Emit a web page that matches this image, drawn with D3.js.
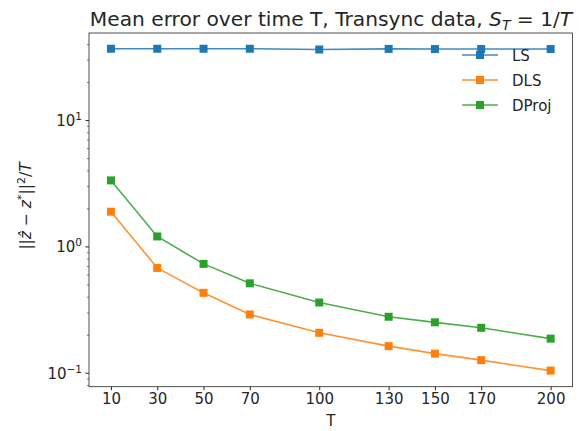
<!DOCTYPE html>
<html><head><meta charset="utf-8">
<script src="https://cdn.jsdelivr.net/npm/d3@7"></script>
<style>body{margin:0;background:#fff}svg{display:block}text{font-family:"DejaVu Sans",sans-serif}</style>
</head><body><svg id="c" width="581" height="431"></svg>
<script>
const Tvals = [10, 30, 50, 70, 100, 130, 150, 170, 200];
const xTicks = [10, 30, 50, 70, 100, 130, 150, 170, 200];
const LS = [37.0, 37.0, 37.0, 37.0, 36.5, 36.9, 36.8, 36.8, 36.8];
const DLS = [1.90, 0.682, 0.433, 0.292, 0.209, 0.164, 0.143, 0.127, 0.105];
const DProj = [3.36, 1.21, 0.734, 0.515, 0.363, 0.280, 0.253, 0.229, 0.188];
const seriesNames = ["LS", "DLS", "DProj"];
const seriesColors = ["#1f77b4", "#ff7f0e", "#2ca02c"];
const seriesData = [LS, DLS, DProj];

const svg = d3.select("#c");
const m = {l: 89, r: 572.6, t: 33, b: 386.7};
const x = d3.scaleLinear().domain([0.5, 209.5]).range([m.l, m.r]);
const y = d3.scaleLog().domain([0.0783, 49.3]).range([m.b, m.t]);
const ink = "#262626";

// axes
const xAxis = d3.axisBottom(x).tickValues(xTicks).tickSize(3.5).tickPadding(3.5).tickFormat(d3.format("d"));
const gx = svg.append("g").attr("transform", `translate(0,${m.b})`).call(xAxis);
gx.select(".domain").remove();
gx.selectAll("text").attr("font-size", 15).attr("fill", ink).attr("dy", "0.71em");
gx.selectAll("line").attr("stroke", ink);

const majors = [0.1, 1, 10];
const minors = [];
for (let e = -2; e <= 1; e++) for (let k = 2; k <= 9; k++) {
  const v = k * Math.pow(10, e);
  if (v > 0.0783 && v < 49.3) minors.push(v);
}
const gy = svg.append("g");
gy.selectAll(".mj").data(majors).join("line")
  .attr("x1", m.l - 3.5).attr("x2", m.l).attr("y1", d => y(d)).attr("y2", d => y(d)).attr("stroke", ink);
gy.selectAll(".mn").data(minors).join("line")
  .attr("x1", m.l - 2).attr("x2", m.l).attr("y1", d => y(d)).attr("y2", d => y(d)).attr("stroke", ink).attr("stroke-width", 0.6);
const expo = ["\u22121", "0", "1"];
majors.forEach((d, i) => {
  const t = gy.append("text").attr("x", m.l - 7).attr("y", y(d) + 5.5).attr("text-anchor", "end").attr("font-size", 15).attr("fill", ink);
  t.append("tspan").text("10");
  t.append("tspan").attr("dy", -6).attr("font-size", 10.5).text(expo[i]);
});

// frame
svg.append("rect").attr("x", m.l).attr("y", m.t).attr("width", m.r - m.l).attr("height", m.b - m.t)
  .attr("fill", "none").attr("stroke", ink).attr("stroke-width", 0.8);

// series
const line = d3.line().x((d, i) => x(Tvals[i])).y(d => y(d));
seriesData.forEach((s, k) => {
  const g = svg.append("g");
  g.append("path").datum(s).attr("d", line).attr("fill", "none").attr("stroke", seriesColors[k]).attr("stroke-width", 1.6).attr("stroke-opacity", 0.85);
  g.selectAll("rect").data(s).join("rect")
    .attr("x", (d, i) => x(Tvals[i]) - 4).attr("y", d => y(d) - 4).attr("width", 8).attr("height", 8)
    .attr("fill", seriesColors[k]);
});

// legend
const lg = svg.append("g");
seriesNames.forEach((n, k) => {
  const yy = 55 + k * 25;
  lg.append("line").attr("x1", 462).attr("x2", 498).attr("y1", yy).attr("y2", yy).attr("stroke", seriesColors[k]).attr("stroke-width", 1.6).attr("stroke-opacity", 0.85);
  lg.append("rect").attr("x", 476).attr("y", yy - 4).attr("width", 8).attr("height", 8).attr("fill", seriesColors[k]);
  lg.append("text").attr("x", 512).attr("y", yy + 5.5).attr("font-size", 15).attr("fill", ink).text(n);
});

// title
const tt = svg.append("text").attr("x", 331).attr("y", 26).attr("text-anchor", "middle").attr("font-size", 20.2).attr("fill", ink);
tt.append("tspan").text("Mean error over time T, Transync data, ");
tt.append("tspan").attr("font-style", "italic").text("S");
tt.append("tspan").attr("font-style", "italic").attr("font-size", 14).attr("dy", 3.5).text("T");
tt.append("tspan").attr("dy", -3.5).text(" = 1/");
tt.append("tspan").attr("font-style", "italic").text("T");

// x label
svg.append("text").attr("x", (m.l + m.r) / 2).attr("y", 426).attr("text-anchor", "middle").attr("font-size", 15).attr("fill", ink).text("T");

// y label
const yl = svg.append("text").attr("transform", `translate(31,206) rotate(-90)`).attr("text-anchor", "middle").attr("font-size", 15.5).attr("fill", ink);
yl.append("tspan").text("||");
yl.append("tspan").attr("font-style", "italic").text("z\u0302");
yl.append("tspan").text(" \u2212 ");
yl.append("tspan").attr("font-style", "italic").text("z");
yl.append("tspan").attr("dy", -6).attr("font-size", 11).text("*");
yl.append("tspan").attr("dy", 6).text("||");
yl.append("tspan").attr("dy", -6).attr("font-size", 11).text("2");
yl.append("tspan").attr("dy", 6).text("/");
yl.append("tspan").attr("font-style", "italic").text("T");
</script></body></html>
